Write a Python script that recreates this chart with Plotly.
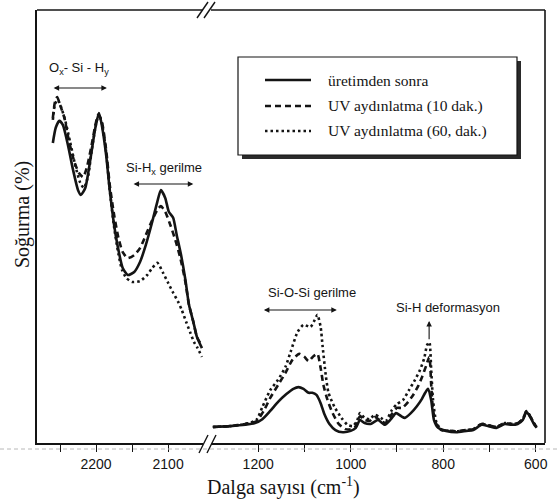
import plotly.graph_objects as go

# ---------------- data ----------------
# left panel (2250-2050 cm-1)
wn_left_solid = [2260, 2256, 2251, 2246, 2239, 2232, 2225, 2221, 2215, 2208, 2201, 2196, 2192, 2186,
                 2181, 2175, 2169, 2163, 2156, 2147, 2139, 2131, 2122, 2115, 2110, 2104, 2099, 2093,
                 2088, 2082, 2076, 2071, 2065, 2060, 2053]
ab_left_solid = [69.3, 72.8, 74.4, 73.4, 68.8, 63.1, 58.4, 57.3, 58.9, 65.4, 72.8, 76.2, 73.4, 66.5,
                 58.4, 50.4, 44.6, 40.4, 38.8, 39.5, 41.8, 45.7, 51.1, 55.7, 58.4, 56.6, 53.4, 52.0,
                 48.0, 43.4, 37.7, 31.9, 28.0, 24.5, 21.9]

wn_left_10 = [2260, 2257, 2254, 2250, 2244, 2238, 2231, 2224, 2218, 2213, 2207, 2201, 2197, 2192,
              2186, 2181, 2175, 2169, 2163, 2156, 2147, 2139, 2131, 2122, 2115, 2110, 2104, 2097,
              2090, 2083, 2076, 2071, 2065, 2060, 2053]
ab_left_10 = [75.1, 78.8, 79.9, 78.1, 75.1, 70.0, 65.4, 62.4, 61.4, 63.5, 68.1, 73.4, 75.8, 74.2,
              67.7, 59.6, 52.7, 47.4, 44.1, 42.7, 43.4, 45.0, 48.0, 51.5, 53.8, 54.7, 53.4, 50.4,
              46.9, 42.7, 37.2, 31.9, 28.0, 24.5, 22.4]

wn_left_60 = [2260, 2257, 2253, 2249, 2243, 2236, 2229, 2222, 2217, 2211, 2206, 2200, 2196, 2192,
              2186, 2181, 2175, 2169, 2164, 2158, 2150, 2139, 2129, 2122, 2115, 2107, 2100, 2093,
              2086, 2081, 2075, 2069, 2064, 2060, 2053]
ab_left_60 = [74.6, 78.3, 79.2, 77.8, 74.6, 69.5, 64.2, 60.1, 58.9, 61.7, 67.7, 73.7, 76.0, 73.9,
              67.2, 58.4, 49.9, 43.7, 40.0, 38.1, 37.2, 37.4, 38.8, 40.4, 41.6, 39.3, 37.0, 34.7,
              32.6, 30.7, 28.0, 25.4, 23.3, 22.2, 19.9]

# right panel (1300-600 cm-1)
wn_right_solid = [1298, 1261, 1228, 1207, 1191, 1174, 1157, 1139, 1124, 1113, 1102, 1091, 1083, 1074,
                  1065, 1057, 1046, 1033, 1017, 1000, 989, 980, 970, 957, 941, 926, 913, 902, 891,
                  883, 870, 857, 846, 839, 833, 826, 820, 811, 794, 772, 750, 735, 717, 702, 685,
                  667, 652, 639, 628, 620, 611, 604, 598]
ab_right_solid = [3.7, 3.9, 4.2, 4.6, 5.5, 7.4, 9.5, 11.3, 12.5, 12.9, 12.5, 11.6, 11.6, 11.1,
                  9.2, 6.7, 4.4, 3.0, 2.5, 2.8, 3.5, 5.3, 4.6, 4.4, 5.3, 4.2, 5.5, 6.9, 6.2,
                  5.8, 6.9, 8.5, 10.2, 11.6, 12.5, 9.9, 5.3, 3.5, 2.8, 2.5, 2.8, 3.0, 4.2, 3.9, 3.5,
                  4.4, 4.2, 4.4, 5.3, 7.2, 5.8, 4.4, 3.5]

wn_right_10 = [1298, 1261, 1228, 1204, 1187, 1174, 1157, 1141, 1126, 1111, 1100, 1091, 1080, 1072,
               1065, 1059, 1050, 1039, 1026, 1011, 1000, 989, 980, 970, 959, 948, 935, 924, 911,
               900, 889, 878, 865, 854, 846, 837, 830, 826, 822, 815, 804, 794, 772, 750, 735,
               717, 702, 685, 667, 652, 639, 628, 620, 611, 604, 598]
ab_right_10 = [3.7, 3.9, 4.4, 5.0, 7.6, 10.4, 13.4, 16.2, 19.2, 20.6, 19.9, 18.9, 20.1, 20.6,
               17.3, 13.4, 9.9, 6.9, 4.4, 3.2, 3.2, 3.9, 6.2, 5.3, 5.1, 6.0, 5.1, 4.6, 6.7,
               8.1, 8.1, 9.2, 11.1, 13.2, 15.2, 17.8, 19.9, 13.4, 7.6, 4.4, 3.0, 2.9, 2.7, 3.0, 3.2,
               4.4, 4.1, 3.7, 4.6, 4.4, 4.6, 5.5, 7.4, 6.0, 4.6, 3.7]

wn_right_60 = [1298, 1261, 1228, 1204, 1191, 1174, 1157, 1141, 1130, 1115, 1102, 1087, 1078, 1072,
               1065, 1061, 1054, 1048, 1035, 1020, 1007, 996, 987, 980, 970, 959, 948, 935, 924,
               911, 900, 887, 874, 861, 850, 841, 835, 830, 826, 822, 815, 804, 794, 772, 750,
               735, 717, 702, 685, 667, 652, 639, 628, 620, 611, 604, 598]
ab_right_60 = [3.7, 3.9, 4.4, 5.3, 8.3, 12.2, 14.6, 17.6, 21.0, 25.6, 27.3, 26.8, 28.4, 29.6,
               26.8, 22.6, 15.7, 11.6, 8.3, 5.8, 4.2, 3.9, 4.9, 6.9, 5.8, 5.5, 6.5, 5.8, 5.1,
               7.6, 9.0, 9.9, 12.2, 14.6, 16.9, 19.6, 22.6, 23.3, 16.9, 9.9, 4.9, 3.0, 2.9, 2.7, 3.0,
               3.2, 4.4, 4.1, 3.7, 4.6, 4.4, 4.6, 5.5, 7.4, 6.0, 4.6, 3.7]

series_names = ["üretimden sonra", "UV aydınlatma (10 dak.)", "UV aydınlatma (60, dak.)"]
left_tickvals = [2250, 2200, 2150, 2100]
left_ticktext = ["", "2200", "", "2100"]
right_tickvals = [1200, 1100, 1000, 900, 800, 700, 600]
right_ticktext = ["1200", "", "1000", "", "800", "", "600"]

# ---------------- figure ----------------
INK = "#141414"
SERIF = "Liberation Serif, Times New Roman, serif"
SANS = "Liberation Sans, Arial, sans-serif"
W, H = 558, 504
L, R, T, B = 37, 13, 10, 61
PW, PH = W - L - R, H - T - B


def px(xp):
    return (xp - L) / PW


def py(yp):
    return (H - B - yp) / PH


styles = [dict(width=2.6, dash="solid"),
          dict(width=2.6, dash="6px,4px"),
          dict(width=2.6, dash="2.5px,3px")]

fig = go.Figure()
left = [(wn_left_solid, ab_left_solid), (wn_left_10, ab_left_10), (wn_left_60, ab_left_60)]
right = [(wn_right_solid, ab_right_solid), (wn_right_10, ab_right_10), (wn_right_60, ab_right_60)]
for i, name in enumerate(series_names):
    fig.add_trace(go.Scatter(x=left[i][0], y=left[i][1], mode="lines", name=name,
                             line=dict(color=INK, shape="spline", smoothing=0.6, **styles[i]),
                             xaxis="x", yaxis="y", showlegend=False))
    fig.add_trace(go.Scatter(x=right[i][0], y=right[i][1], mode="lines", name=name,
                             line=dict(color=INK, shape="spline", smoothing=0.6, **styles[i]),
                             xaxis="x2", yaxis="y", showlegend=False))

axis_common = dict(showgrid=False, zeroline=False, showline=True, linecolor=INK, linewidth=1.6,
                   ticks="outside", ticklen=7, tickwidth=1.4, tickcolor=INK,
                   tickfont=dict(family=SANS, size=14, color=INK))

fig.update_layout(
    width=W, height=H,
    margin=dict(l=L, r=R, t=T, b=B),
    paper_bgcolor="white", plot_bgcolor="white",
    showlegend=False,
    xaxis=dict(domain=[0, px(207)], range=[2282, 2046], tickvals=left_tickvals,
               ticktext=left_ticktext, anchor="y", **axis_common),
    xaxis2=dict(domain=[px(211), 1], range=[1302, 580], tickvals=right_tickvals,
                ticktext=right_ticktext, anchor="y", **axis_common),
    yaxis=dict(range=[0, 100], showgrid=False, zeroline=False, showline=True, linecolor=INK,
               linewidth=1.6, showticklabels=False, ticks=""),
)

shapes = []
# frame top & right
shapes.append(dict(type="line", xref="paper", yref="paper", x0=0, x1=1, y0=1, y1=1,
                   line=dict(color=INK, width=1.6)))
shapes.append(dict(type="line", xref="paper", yref="paper", x0=1, x1=1, y0=0, y1=1,
                   line=dict(color=INK, width=1.6)))
# scan rule below axis
shapes.append(dict(type="line", xref="paper", yref="paper", x0=px(0), x1=px(558), y0=py(449), y1=py(449),
                   line=dict(color="#b8b8b8", width=1, dash="4px,3px")))
# break marks (white gap then slashes)
for (yt, yb) in [(2, 18), (435, 453)]:
    shapes.append(dict(type="rect", xref="paper", yref="paper", x0=px(203), x1=px(211),
                       y0=py(yb - 6), y1=py(yt + 6), fillcolor="white", line=dict(width=0)))
shapes += [
    dict(type="line", xref="paper", yref="paper", x0=px(197), y0=py(18), x1=px(208), y1=py(2),
         line=dict(color=INK, width=1.4)),
    dict(type="line", xref="paper", yref="paper", x0=px(204), y0=py(18), x1=px(215), y1=py(2),
         line=dict(color=INK, width=1.4)),
    dict(type="line", xref="paper", yref="paper", x0=px(199), y0=py(453), x1=px(208), y1=py(435),
         line=dict(color=INK, width=1.4)),
    dict(type="line", xref="paper", yref="paper", x0=px(207), y0=py(453), x1=px(216), y1=py(435),
         line=dict(color=INK, width=1.4)),
]
# legend box with shadow
shapes.append(dict(type="rect", xref="paper", yref="paper", x0=px(242), x1=px(521), y0=py(159), y1=py(61),
                   fillcolor="#2a2a2a", line=dict(width=0)))
shapes.append(dict(type="rect", xref="paper", yref="paper", x0=px(238), x1=px(517), y0=py(155), y1=py(57),
                   fillcolor="white", line=dict(color=INK, width=1.2)))
for i, yy in enumerate([80, 106, 131]):
    shapes.append(dict(type="line", xref="paper", yref="paper", x0=px(265), x1=px(311), y0=py(yy), y1=py(yy),
                       line=dict(color=INK, **styles[i])))
fig.update_layout(shapes=shapes)

ann = []
for i, yy in enumerate([80, 106, 131]):
    ann.append(dict(xref="paper", yref="paper", x=px(326), y=py(yy), text=series_names[i],
                    showarrow=False, xanchor="left", yanchor="middle",
                    font=dict(family=SERIF, size=15.5, color=INK)))
# axis titles
ann.append(dict(xref="paper", yref="paper", x=px(22), y=py(215), text="Soğurma (%)", textangle=-90,
                showarrow=False, xanchor="center", yanchor="middle",
                font=dict(family=SERIF, size=20, color=INK)))
ann.append(dict(xref="paper", yref="paper", x=px(283), y=py(487), text="Dalga sayısı (cm<sup>-1</sup>)",
                showarrow=False, xanchor="center", yanchor="middle",
                font=dict(family=SERIF, size=20, color=INK)))
# band labels
lab_font = dict(family=SANS, size=13, color=INK)
ann.append(dict(xref="x", yref="y", x=2224, y=86.4, text="O<sub>x</sub>- Si - H<sub>y</sub>",
                showarrow=False, xanchor="center", yanchor="middle", font=lab_font))
ann.append(dict(xref="x", yref="y", x=2106, y=63.3, text="Si-H<sub>x</sub> gerilme",
                showarrow=False, xanchor="center", yanchor="middle", font=lab_font))
ann.append(dict(xref="x2", yref="y", x=1083, y=34.7, text="Si-O-Si gerilme",
                showarrow=False, xanchor="center", yanchor="middle", font=lab_font))
ann.append(dict(xref="x2", yref="y", x=789, y=31.2, text="Si-H deformasyon",
                showarrow=False, xanchor="center", yanchor="middle", font=lab_font))
# arrows
arr = dict(showarrow=True, text="", arrowhead=2, arrowsize=1, arrowwidth=1.1, arrowcolor=INK,
           startarrowhead=2, startarrowsize=1)
ann.append(dict(xref="x", yref="y", axref="x", ayref="y", x=2185, y=82.0, ax=2261, ay=82.0,
                arrowside="end+start", **arr))
ann.append(dict(xref="x", yref="y", axref="x", ayref="y", x=2065, y=59.8, ax=2150, ay=59.8,
                arrowside="end+start", **arr))
ann.append(dict(xref="x2", yref="y", axref="x2", ayref="y", x=1030, y=30.7, ax=1191, ay=30.7,
                arrowside="end+start", **arr))
ann.append(dict(xref="x2", yref="y", axref="x2", ayref="y", x=830.5, y=28.2, ax=830.5, ay=23.6,
                arrowside="end", **arr))
fig.update_layout(annotations=ann)

fig.write_html("out.html")
